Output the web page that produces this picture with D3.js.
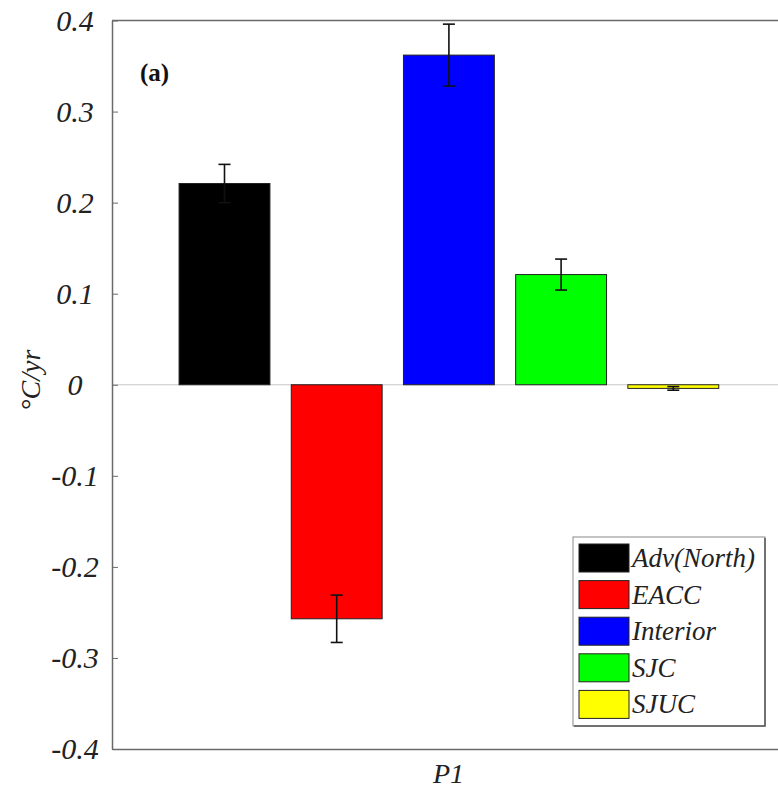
<!DOCTYPE html>
<html>
<head>
<meta charset="utf-8">
<script src="https://cdn.jsdelivr.net/npm/d3@7"></script>
<style>
  html, body { margin: 0; padding: 0; background: #fff; }
  svg { display: block; }
</style>
</head>
<body>
<div id="chart"></div>
<script>
// data
var categories = ["Adv(North)", "EACC", "Interior", "SJC", "SJUC"];
var values = [0.221, -0.257, 0.362, 0.121, -0.004];
var errors = [0.021, 0.026, 0.034, 0.017, 0.002];
var colors = ["#000000", "#ff0000", "#0000ff", "#00ff00", "#ffff00"];
var groups = ["P1"];
var yTicks = [-0.4, -0.3, -0.2, -0.1, 0, 0.1, 0.2, 0.3, 0.4];

var W = 778, H = 797;
var margin = {top: 20.5, right: -7, bottom: 48, left: 112};
var width = W - margin.left - margin.right,
    height = H - margin.top - margin.bottom;
var serif = "'Liberation Serif'";

var svg = d3.select("#chart").append("svg")
    .attr("width", W)
    .attr("height", H);

var g = svg.append("g")
    .attr("transform", "translate(" + margin.left + "," + margin.top + ")");

// scales
var y = d3.scaleLinear().domain([-0.4, 0.4]).range([height, 0]);

var xg = d3.scaleBand().domain(groups).range([0, width]);

// bars inside the single group
var x = d3.scaleBand()
    .domain(categories)
    .range([56.4, 617.4])
    .paddingInner(0.19)
    .paddingOuter(0.095);

// zero baseline
g.append("line")
    .attr("x1", 0).attr("x2", width)
    .attr("y1", y(0)).attr("y2", y(0))
    .attr("stroke", "#c8c8c8")
    .attr("stroke-width", 1.2);

// bars
g.selectAll("rect.bar")
  .data(categories)
  .enter()
  .append("rect")
    .attr("class", "bar")
    .attr("x", function(d) { return x(d); })
    .attr("width", x.bandwidth())
    .attr("y", function(d, i) { return y(Math.max(0, values[i])); })
    .attr("height", function(d, i) { return Math.abs(y(values[i]) - y(0)); })
    .attr("fill", function(d, i) { return colors[i]; })
    .attr("stroke", "#222")
    .attr("stroke-width", 1);

// error bars
var eb = g.selectAll("g.err")
  .data(categories)
  .enter()
  .append("g")
    .attr("class", "err")
    .attr("stroke", "#111")
    .attr("stroke-width", 1.6);

var cap = 6;
eb.append("line")
    .attr("x1", function(d) { return x(d) + x.bandwidth() / 2; })
    .attr("x2", function(d) { return x(d) + x.bandwidth() / 2; })
    .attr("y1", function(d, i) { return y(values[i] - errors[i]); })
    .attr("y2", function(d, i) { return y(values[i] + errors[i]); });
eb.append("line")
    .attr("x1", function(d) { return x(d) + x.bandwidth() / 2 - cap; })
    .attr("x2", function(d) { return x(d) + x.bandwidth() / 2 + cap; })
    .attr("y1", function(d, i) { return y(values[i] + errors[i]); })
    .attr("y2", function(d, i) { return y(values[i] + errors[i]); });
eb.append("line")
    .attr("x1", function(d) { return x(d) + x.bandwidth() / 2 - cap; })
    .attr("x2", function(d) { return x(d) + x.bandwidth() / 2 + cap; })
    .attr("y1", function(d, i) { return y(values[i] - errors[i]); })
    .attr("y2", function(d, i) { return y(values[i] - errors[i]); });

// axes
var fmt = function(d) { return d === 0 ? "0" : d3.format(".1f")(d).replace("\u2212", "-"); };
var yAxis = g.append("g")
    .call(d3.axisLeft(y).tickValues(yTicks).tickSizeInner(-6).tickSizeOuter(0)
      .tickPadding(37).tickFormat(fmt));
yAxis.attr("font-family", serif);
yAxis.select(".domain").attr("stroke", "#6a6a6a").attr("stroke-width", 1.5);
yAxis.selectAll(".tick line").attr("stroke", "#6a6a6a");
yAxis.selectAll(".tick text")
    .attr("text-anchor", "middle")
    .style("font-family", serif)
    .style("font-style", "italic")
    .style("font-size", "30px")
    .attr("fill", "#222");

var yAxisR = g.append("g")
    .attr("transform", "translate(" + width + ",0)")
    .call(d3.axisRight(y).tickValues(yTicks).tickSizeInner(-6).tickSizeOuter(0).tickFormat(""));
yAxisR.selectAll("path, line").attr("stroke", "#6a6a6a");

var xAxis = g.append("g")
    .attr("transform", "translate(0," + height + ")")
    .call(d3.axisBottom(xg).tickSize(0).tickSizeOuter(0).tickPadding(14));
xAxis.attr("font-family", serif);
xAxis.select(".domain").attr("stroke", "#6a6a6a").attr("stroke-width", 1.5);
xAxis.selectAll(".tick text")
    .style("font-family", serif)
    .style("font-style", "italic")
    .style("font-size", "28px")
    .attr("fill", "#222");

g.append("line")
    .attr("x1", 0).attr("x2", width)
    .attr("y1", 0).attr("y2", 0)
    .attr("stroke", "#6a6a6a").attr("stroke-width", 1.5);

// y label
svg.append("text")
    .attr("transform", "translate(40," + (margin.top + y(0.005)) + ") rotate(-90)")
    .attr("text-anchor", "middle")
    .style("font-family", serif)
    .style("font-style", "italic")
    .style("font-size", "28px")
    .attr("fill", "#222")
    .text("\u00B0C/yr");

// panel tag
g.append("text")
    .attr("x", 28).attr("y", 60)
    .style("font-family", serif)
    .style("font-weight", "bold")
    .style("font-size", "25px")
    .attr("fill", "#111")
    .text("(a)");

// legend
var lg = svg.append("g").attr("transform", "translate(573,537)");
lg.append("rect")
    .attr("x", 0).attr("y", 0)
    .attr("width", 192).attr("height", 189)
    .attr("fill", "#fff")
    .attr("stroke", "#8a8a8a")
    .attr("stroke-width", 1);
lg.append("path")
    .attr("d", "M192,1 L192,189 L1,189")
    .attr("fill", "none")
    .attr("stroke", "#555")
    .attr("stroke-width", 1.5);

var rows = lg.selectAll("g.row")
  .data(categories)
  .enter()
  .append("g")
    .attr("class", "row")
    .attr("transform", function(d, i) { return "translate(6," + (7 + i * 36.6) + ")"; });
rows.append("rect")
    .attr("width", 50).attr("height", 28)
    .attr("fill", function(d, i) { return colors[i]; })
    .attr("stroke", "#222")
    .attr("stroke-width", 1);
rows.append("text")
    .attr("x", 53).attr("y", 23)
    .style("font-family", serif)
    .style("font-style", "italic")
    .style("font-size", "27px")
    .attr("fill", "#222")
    .text(function(d) { return d; });
</script>
</body>
</html>
